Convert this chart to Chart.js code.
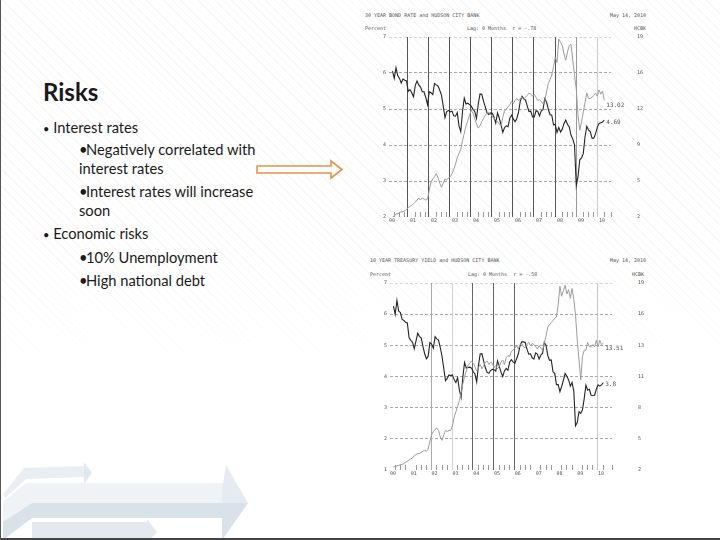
<!DOCTYPE html>
<html>
<head>
<meta charset="utf-8">
<script src="https://cdn.jsdelivr.net/npm/chart.js@4.4.1/dist/chart.umd.min.js"></script>
<style>
  body { margin: 0; background: #fff; }
  #slide { position: relative; width: 720px; height: 540px; overflow: hidden; background: #fff;
           font-family: Lato, "Open Sans", sans-serif; color: #1a1a1a; }
  #stripes { position: absolute; left: 0; top: 0; width: 720px; height: 540px;
             background: repeating-linear-gradient(45deg, rgba(0,0,0,0) 0 5px, rgba(0,0,0,0.035) 5px 6px);
             -webkit-mask-image: linear-gradient(to bottom, #000 0%, #000 45%, rgba(0,0,0,0) 70%); }
  #frame { position: absolute; left: 0; top: 0; width: 719px; height: 538px;
           border-left: 1px solid #555; border-bottom: 2px solid #444; }
  .t { position: absolute; white-space: nowrap; font-size: 14.7px; line-height: 18px; }
  .b { font-size: 11px; }
  .sb { display: inline-block; width: 7px; overflow: visible; }
  .h { position: absolute; white-space: pre; font-family: "DejaVu Sans Mono", monospace;
       font-size: 5px; line-height: 6px; color: #555; }
  canvas { position: absolute; }
</style>
</head>
<body>
<div id="slide">
  <div id="stripes"></div>

  <svg width="720" height="540" style="position:absolute;left:0;top:0">
    <!-- background arrows, bottom left -->
    <polygon points="3,494 24,468 84,466 84,477 26,479 5,498" fill="#e9eef3"/>
    <polygon points="84,462 92,473 84,484" fill="#e2e8ef"/>
    <polygon points="3,502 26,483 226,483 226,503 32,503 3,522" fill="#f0f3f6"/>
    <polygon points="3,522 32,503 222,503 222,518 32,518 3,540" fill="#d9e1e9"/>
    <polygon points="226,465 248,503 222,540 222,490" fill="#e6ebf1"/>
    <polygon points="222,503 248,503 222,540" fill="#d9e1e9"/>
    <polygon points="32,522 147,522 147,519 157,532 150,540 32,540" fill="#e3e9ef"/>
    <!-- orange arrow -->
    <path d="M257 166 H331 V161 L342 169.5 L331 178 V173 H257 Z" fill="#fff" stroke="#e8914a" stroke-width="1.6"/>
  </svg>

  <div class="t" style="left:43px;top:80px;font-size:24px;line-height:24px;font-weight:bold;">Risks</div>
  <div class="t" style="left:43px;top:117.5px;"><span class="b">&bull;</span> Interest rates</div>
  <div class="t" style="left:79px;top:140px;"><span class="sb">&bull;</span>Negatively correlated with</div>
  <div class="t" style="left:79px;top:159px;">interest rates</div>
  <div class="t" style="left:79px;top:182px;"><span class="sb">&bull;</span>Interest rates will increase</div>
  <div class="t" style="left:79px;top:201px;">soon</div>
  <div class="t" style="left:43px;top:224px;"><span class="b">&bull;</span> Economic risks</div>
  <div class="t" style="left:79px;top:247.5px;"><span class="sb">&bull;</span>10% Unemployment</div>
  <div class="t" style="left:79px;top:270.5px;"><span class="sb">&bull;</span>High national debt</div>

  <!-- chart 1 header -->
  <div class="h" style="left:365px;top:12px;">30 YEAR BOND RATE and HUDSON CITY BANK</div>
  <div class="h" style="left:610px;top:12px;">May 14, 2010</div>
  <div class="h" style="left:365px;top:25px;">Percent</div>
  <div class="h" style="left:467px;top:25px;">Lag: 0 Months  r = -.78</div>
  <div class="h" style="left:634px;top:25px;">HCBK</div>
  <canvas id="chart1" width="295" height="200" style="left:360px;top:30px;"></canvas>

  <!-- chart 2 header -->
  <div class="h" style="left:370px;top:257px;">10 YEAR TREASURY YIELD and HUDSON CITY BANK</div>
  <div class="h" style="left:610px;top:257px;">May 14, 2010</div>
  <div class="h" style="left:370px;top:271px;">Percent</div>
  <div class="h" style="left:468px;top:271px;">Lag: 0 Months  r = -.58</div>
  <div class="h" style="left:632px;top:271px;">HCBK</div>
  <canvas id="chart2" width="295" height="207" style="left:360px;top:276px;"></canvas>

  <div id="frame"></div>
</div>

<script>
/************* Data (monthly, March 2000 - April 2010) *************/

const startYear = 2000;
const startMonth = 2; // March
const years = ['00', '01', '02', '03', '04', '05', '06', '07', '08', '09', '10'];

const bond30 = [
    6.05, 5.85, 6.15, 5.93, 5.85, 5.72, 5.83, 5.80, 5.78, 5.49,
    5.54, 5.45, 5.34, 5.65, 5.78, 5.67, 5.61, 5.48, 5.48, 5.32, 5.12, 5.48,
    5.45, 5.40, 5.71, 5.67, 5.64, 5.52, 5.38, 5.08, 4.76, 4.93, 4.96, 4.92,
    4.94, 4.81, 4.80, 4.90, 4.53, 4.37, 4.93, 5.30, 5.14, 5.16, 5.12, 5.08,
    4.99, 4.93, 4.74, 5.14, 5.42, 5.41, 5.22, 5.06, 4.90, 4.85, 4.89, 4.88,
    4.77, 4.61, 4.89, 4.75, 4.56, 4.35, 4.48, 4.53, 4.51, 4.74, 4.83, 4.73,
    4.65, 4.73, 4.91, 5.22, 5.35, 5.29, 5.25, 5.08, 4.93, 4.94, 4.78, 4.78,
    4.95, 4.93, 4.81, 4.95, 4.98, 5.29, 5.19, 5.00, 4.84, 4.83, 4.56, 4.57,
    4.35, 4.49, 4.36, 4.44, 4.60, 4.69, 4.57, 4.50, 4.27, 4.17, 4.00, 2.87,
    3.13, 3.59, 3.64, 3.76, 4.23, 4.52, 4.41, 4.37, 4.19, 4.19, 4.31, 4.49,
    4.60, 4.62, 4.64, 4.69
];

const hcbk30 = [
    2.0, 2.1, 2.3, 2.3, 2.4, 2.5, 2.5, 2.6, 2.7, 2.9,
    3.0, 3.1, 3.25, 3.4, 3.6, 3.8, 3.6, 3.8, 3.7, 3.6, 3.7, 4.5,
    5.3, 5.6, 5.8, 6.1, 5.7, 5.2, 4.8, 5.2, 5.6, 5.5, 5.7, 5.8,
    6.1, 6.5, 7.0, 7.6, 8.0, 8.4, 9.2, 9.9, 10.6, 11.1, 11.6, 12.1,
    11.8, 11.3, 10.8, 10.4, 10.6, 11.0, 11.3, 11.6, 11.8, 11.9, 11.7, 11.5,
    11.3, 11.2, 11.0, 10.8, 10.6, 11.4, 12.0, 12.2, 12.4, 12.6, 12.9, 12.7,
    13.0, 13.2, 13.0, 13.2, 13.3, 13.1, 13.3, 13.5, 13.7, 13.6, 13.4, 13.6,
    13.3, 13.0, 13.1, 12.9, 12.7, 13.0, 13.8, 14.6, 15.0, 15.4, 16.2, 17.1,
    16.6, 18.8, 18.5, 18.2, 17.4, 16.8, 17.6, 18.2, 18.3, 16.8, 15.4, 14.1,
    11.6, 10.2, 11.0, 11.9, 12.8, 13.7, 13.2, 13.2, 13.3, 13.5, 13.7, 13.4,
    14.0, 13.6, 13.9, 13.02
];

const treasury10 = [
    6.26, 5.99, 6.44, 6.10, 6.05, 5.83, 5.80, 5.74, 5.72, 5.24,
    5.16, 5.10, 4.89, 5.14, 5.39, 5.28, 5.24, 4.97, 4.73, 4.57, 4.65, 5.09,
    5.04, 4.91, 5.28, 5.21, 5.16, 4.93, 4.65, 4.26, 3.87, 3.94, 4.05, 4.03,
    4.05, 3.90, 3.81, 3.96, 3.57, 3.33, 3.98, 4.45, 4.27, 4.29, 4.30, 4.27,
    4.15, 4.08, 3.83, 4.35, 4.72, 4.73, 4.50, 4.28, 4.13, 4.10, 4.19, 4.23,
    4.22, 4.17, 4.50, 4.34, 4.14, 4.00, 4.18, 4.26, 4.20, 4.46, 4.54, 4.47,
    4.42, 4.57, 4.72, 4.99, 5.11, 5.11, 5.09, 4.88, 4.72, 4.73, 4.60, 4.56,
    4.76, 4.72, 4.56, 4.69, 4.75, 5.10, 5.00, 4.67, 4.52, 4.53, 4.15, 4.10,
    3.74, 3.74, 3.51, 3.68, 3.88, 4.10, 4.01, 3.89, 3.69, 3.81, 3.53, 2.42,
    2.52, 2.87, 2.82, 2.93, 3.29, 3.72, 3.56, 3.59, 3.40, 3.39, 3.40, 3.59,
    3.73, 3.69, 3.73, 3.8
];

const hcbk10 = [
    2.3, 2.3, 2.4, 2.4, 2.5, 2.5, 2.6, 2.7, 2.8, 2.9,
    3.0, 3.1, 3.3, 3.4, 3.5, 3.5, 3.6, 3.7, 3.8, 3.7, 3.9, 4.6,
    5.2, 5.5, 5.7, 5.8, 5.6, 5.0, 4.7, 5.2, 5.6, 5.5, 5.6, 5.6,
    6.0, 6.8, 7.3, 7.8, 8.3, 9.0, 9.8, 10.5, 11.0, 11.5, 11.7, 11.9,
    11.7, 11.4, 11.0, 11.3, 11.6, 11.2, 11.5, 11.8, 11.9, 11.6, 11.8, 11.7,
    11.3, 11.5, 11.2, 11.4, 11.8, 12.0, 11.6, 12.2, 12.4, 12.3, 12.8, 12.9,
    13.1, 13.3, 13.0, 13.4, 13.5, 13.2, 13.1, 13.4, 13.6, 13.3, 13.5, 13.4,
    13.2, 13.0, 13.3, 13.1, 12.9, 13.5, 14.2, 15.0, 15.2, 15.4, 15.6, 15.8,
    15.9, 17.0, 18.7, 17.8, 18.3, 18.8, 18.0, 18.4, 17.6, 18.5, 17.5, 16.1,
    13.8, 12.0, 10.2, 12.3, 12.9, 12.9, 13.6, 13.2, 13.2, 13.4, 13.2, 13.8,
    13.2, 13.8, 13.4, 13.51
];

// dates of the vertical marker lines
const marks1 = [2000.88, 2001.88, 2002.88, 2003.88, 2004.88, 2005.88, 2006.88, 2007.88, 2008.88, 2009.88];
const marks1Colors = ['#555', '#555', '#555', '#555', '#555', '#555', '#555', '#555', '#999', '#ccc'];
const marks2 = [2001.96, 2002.96, 2003.96, 2004.96, 2005.96, 2009.96];
const marks2Colors = ['#aaa', '#d4d4d4', '#666', '#666', '#666', '#c4c4c4'];

/************* Chart Functions *************/

Chart.defaults.font.family = '"DejaVu Sans Mono", monospace';
Chart.defaults.font.size = 5;
Chart.defaults.color = '#555';

function toPoints(arr) {
    return arr.map(function (v, i) {
        return { x: startYear + (startMonth + i) / 12, y: v };
    });
}

function isWhole(v) {
    return Math.abs(v - Math.round(v)) < 1e-6;
}

const yearMarks = {
    id: 'yearMarks',
    beforeDatasetsDraw(chart, args, opts) {
        const ctx = chart.ctx;
        const area = chart.chartArea;
        opts.dates.forEach(function (d, i) {
            const x = Math.round(chart.scales.x.getPixelForValue(d)) + 0.5;
            ctx.save();
            ctx.strokeStyle = opts.colors[i];
            ctx.lineWidth = 1;
            ctx.beginPath();
            ctx.moveTo(x, area.top);
            ctx.lineTo(x, area.bottom);
            ctx.stroke();
            ctx.restore();
        });
    }
};

const endLabels = {
    id: 'endLabels',
    afterDatasetsDraw(chart) {
        const ctx = chart.ctx;
        chart.data.datasets.forEach(function (ds, i) {
            const meta = chart.getDatasetMeta(i);
            const last = meta.data[meta.data.length - 1];
            const val = ds.data[ds.data.length - 1].y;
            ctx.save();
            ctx.font = '6px "DejaVu Sans Mono", monospace';
            ctx.fillStyle = '#555';
            ctx.textBaseline = 'middle';
            ctx.fillText(String(val), last.x + 2, last.y + ds.labelDy);
            ctx.restore();
        });
    }
};

function drawChart(id, rate, price, marks, markColors, o) {
    return new Chart(document.getElementById(id), {
        type: 'line',
        data: {
            datasets: [
                { data: toPoints(price), yAxisID: 'y1', borderColor: '#9c9c9c', borderWidth: 1,
                  pointRadius: 0, tension: 0, labelDy: 5 },
                { data: toPoints(rate), yAxisID: 'y', borderColor: '#242424', borderWidth: 1.1,
                  pointRadius: 0, tension: 0, labelDy: 2 }
            ]
        },
        options: {
            responsive: false,
            animation: false,
            events: [],
            layout: { padding: { top: 7 } },
            plugins: {
                legend: { display: false },
                tooltip: { enabled: false },
                yearMarks: { dates: marks, colors: markColors }
            },
            scales: {
                x: {
                    type: 'linear', min: 2000, max: o.xMax,
                    afterFit: function (s) { s.height = 13; },
                    border: { display: false },
                    grid: {
                        drawOnChartArea: false, tickLength: -5, lineWidth: 1,
                        tickColor: function (c) { return isWhole(c.tick.value) ? 'rgba(0,0,0,0)' : '#999'; }
                    },
                    ticks: {
                        stepSize: 0.25, autoSkip: false, maxRotation: 0, minRotation: 0,
                        align: 'start', padding: 6,
                        callback: function (v) { return isWhole(v) ? years[Math.round(v) - 2000] : ''; }
                    }
                },
                y: {
                    position: 'left', min: o.min, max: 7,
                    afterFit: function (s) { s.width = o.leftW; },
                    border: { display: false, dash: [3, 2] },
                    grid: {
                        drawTicks: false,
                        color: function (c) {
                            if (c.index === 0) return 'rgba(0,0,0,0)';
                            return c.tick.value === 7 ? '#d8d8d8' : '#a8a8a8';
                        }
                    },
                    ticks: { stepSize: 1, padding: 3 }
                },
                y1: {
                    position: 'right', min: 2, max: 19,
                    afterFit: function (s) { s.width = o.rightW; },
                    border: { display: false },
                    grid: { drawOnChartArea: false, drawTicks: true, tickLength: 25, tickColor: 'rgba(0,0,0,0)' },
                    ticks: { count: o.count, padding: 1, callback: function (v) { return Math.round(v); } }
                }
            }
        },
        plugins: [yearMarks, endLabels]
    });
}

drawChart('chart1', bond30, hcbk30, marks1, marks1Colors, { xMax: 2010.57, min: 2, leftW: 29, rightW: 44, count: 6 });
drawChart('chart2', treasury10, hcbk10, marks2, marks2Colors, { xMax: 2010.67, min: 1, leftW: 30, rightW: 43, count: 7 });
</script>
</body>
</html>
